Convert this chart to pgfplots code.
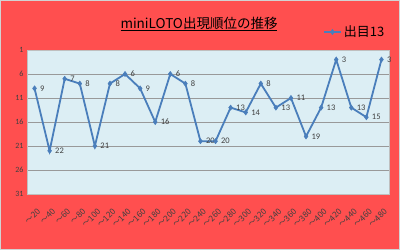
\documentclass[border=0pt]{standalone}
\usepackage{fontspec}
\usepackage{pgfplots}
\pgfplotsset{compat=1.18}
\setmainfont{Carlito}
\newfontfamily\cjk{Noto Sans CJK JP}
\definecolor{bgred}{HTML}{FF4F4F}
\definecolor{plotbg}{HTML}{DCEEF4}
\definecolor{lineblue}{HTML}{4A7EBB}
\definecolor{lblgray}{HTML}{404040}
\begin{document}
\begin{tikzpicture}[x=1pt,y=1pt]
\fill[bgred] (0,0) rectangle (400,250);
\draw[gray!35,line width=1pt] (0.5,0.5) rectangle (399.5,249.5);
\node[font=\cjk\fontsize{13.5}{15}\selectfont, text=black] at (199,226) {\underline{miniLOTO出現順位の推移}};
\begin{axis}[
  at={(27pt,56pt)}, anchor=south west,
  scale only axis, width=362pt, height=144pt,
  xmin=-0.5, xmax=23.5, ymin=1, ymax=31, y dir=reverse,
  ytick={1,6,...,31},
  xtick={0,...,23},
  xticklabels={～20,～40,～60,～80,～100,～120,～140,～160,～180,～200,～220,～240,～260,～280,～300,～320,～340,～360,～380,～400,～420,～440,～460,～480},
  x tick label style={yshift=-13pt, xshift=2pt, rotate=45, anchor=north east, font=\cjk\fontsize{8.3}{9}\selectfont, text=lblgray, inner sep=0.5pt},
  y tick label style={font=\fontsize{8}{8}\selectfont, text=lblgray},
  /pgf/number format/assume math mode=true,
  major tick length=0pt,
  axis background/.style={fill=plotbg},
  ymajorgrids, grid style={gray!80, line width=0.6pt},
  axis line style={gray!50},
  nodes near coords,
  every node near coord/.append style={anchor=west, xshift=2pt, font=\fontsize{8.5}{9}\selectfont, text=lblgray},
  legend style={at={(axis description cs:0.905,1.125)}, anchor=center, draw=none, fill=none, font=\cjk\fontsize{13}{14}\selectfont, legend cell align=left},
  legend image post style={line width=2pt},
]
\addplot[lineblue, line width=1.8pt, mark=diamond*, mark size=2.6pt, mark options={line width=0.5pt}] coordinates {
(0,9) (1,22) (2,7) (3,8) (4,21) (5,8) (6,6) (7,9) (8,16) (9,6) (10,8) (11,20) (12,20) (13,13) (14,14) (15,8) (16,13) (17,11) (18,19) (19,13) (20,3) (21,13) (22,15) (23,3)
};
\addlegendentry{出目13}
\end{axis}
\end{tikzpicture}
\end{document}
